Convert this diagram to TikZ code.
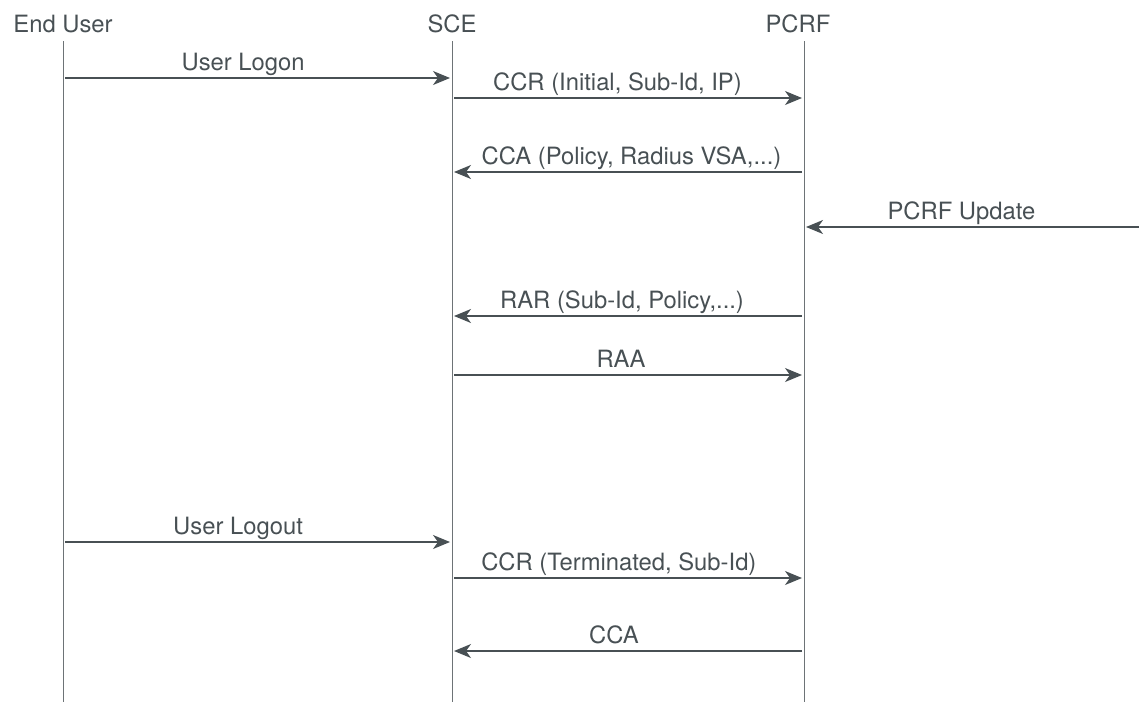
\documentclass[tikz,border=0pt]{standalone}
\usepackage{fontspec}
\setmainfont{TeX Gyre Heros}
\usetikzlibrary{arrows.meta}
\definecolor{seqgray}{RGB}{72,80,84}
\begin{document}
\begin{tikzpicture}[x=1pt,y=-1pt,
      every node/.style={text=seqgray,font=\fontsize{23.8}{28}\selectfont,inner sep=0pt},
      actor/.style={anchor=base},
      lifeline/.style={draw=seqgray!80,line width=1pt},
      msg/.style={draw=seqgray,line width=1.3pt,shorten >=2pt,shorten <=2pt,
        -{Stealth[length=17pt,width=14pt,inset=5pt]}},
      msglabel/.style={anchor=base,yshift=8pt}]
    \useasboundingbox (0,0) rectangle (1139,702);
    % actors
    \node[actor] (eu) at (63,32) {End User};
    \node[actor] (sce) at (452,32) {SCE};
    \node[actor] (pcrf) at (798,32) {PCRF};
    \coordinate (eutop) at (63,41);
    \coordinate (scetop) at (452,41);
    \coordinate (pcrftop) at (804,41);
    \coordinate (outside) at (1139,41);
    \draw[lifeline] (eutop) -- (eutop |- 0,702);
    \draw[lifeline] (scetop) -- (scetop |- 0,702);
    \draw[lifeline] (pcrftop) -- (pcrftop |- 0,702);
    % message rows
    \coordinate (m1) at (0,78);
    \coordinate (m2) at (0,98);
    \coordinate (m3) at (0,172);
    \coordinate (m4) at (0,227);
    \coordinate (m5) at (0,316);
    \coordinate (m6) at (0,375);
    \coordinate (m7) at (0,542);
    \coordinate (m8) at (0,578);
    \coordinate (m9) at (0,651);
    % messages
    \draw[msg] (eutop |- m1) -- node[msglabel,pos=0.463] (logon) {User Logon} (scetop |- m1);
    \draw[msg] (scetop |- m2) -- node[msglabel,pos=0.47] (ccri) {CCR (Initial, Sub-Id, IP)} (pcrftop |- m2);
    \draw[msg] (pcrftop |- m3) -- node[msglabel,pos=0.49] (ccap) {CCA (Policy, Radius VSA,...)} (scetop |- m3);
    \draw[msg,shorten <=0pt] (outside |- m4) -- node[msglabel,pos=0.53] (upd) {PCRF Update} (pcrftop |- m4);
    \draw[msg] (pcrftop |- m5) -- node[msglabel,pos=0.517] (rar) {RAR (Sub-Id, Policy,...)} (scetop |- m5);
    \draw[msg] (scetop |- m6) -- node[msglabel,pos=0.48] (raa) {RAA} (pcrftop |- m6);
    \draw[msg] (eutop |- m7) -- node[msglabel,pos=0.45] (logout) {User Logout} (scetop |- m7);
    \draw[msg] (scetop |- m8) -- node[msglabel,pos=0.474] (ccrt) {CCR (Terminated, Sub-Id)} (pcrftop |- m8);
    \draw[msg] (pcrftop |- m9) -- node[msglabel,pos=0.54] (cca) {CCA} (scetop |- m9);
  \end{tikzpicture}
\end{document}
